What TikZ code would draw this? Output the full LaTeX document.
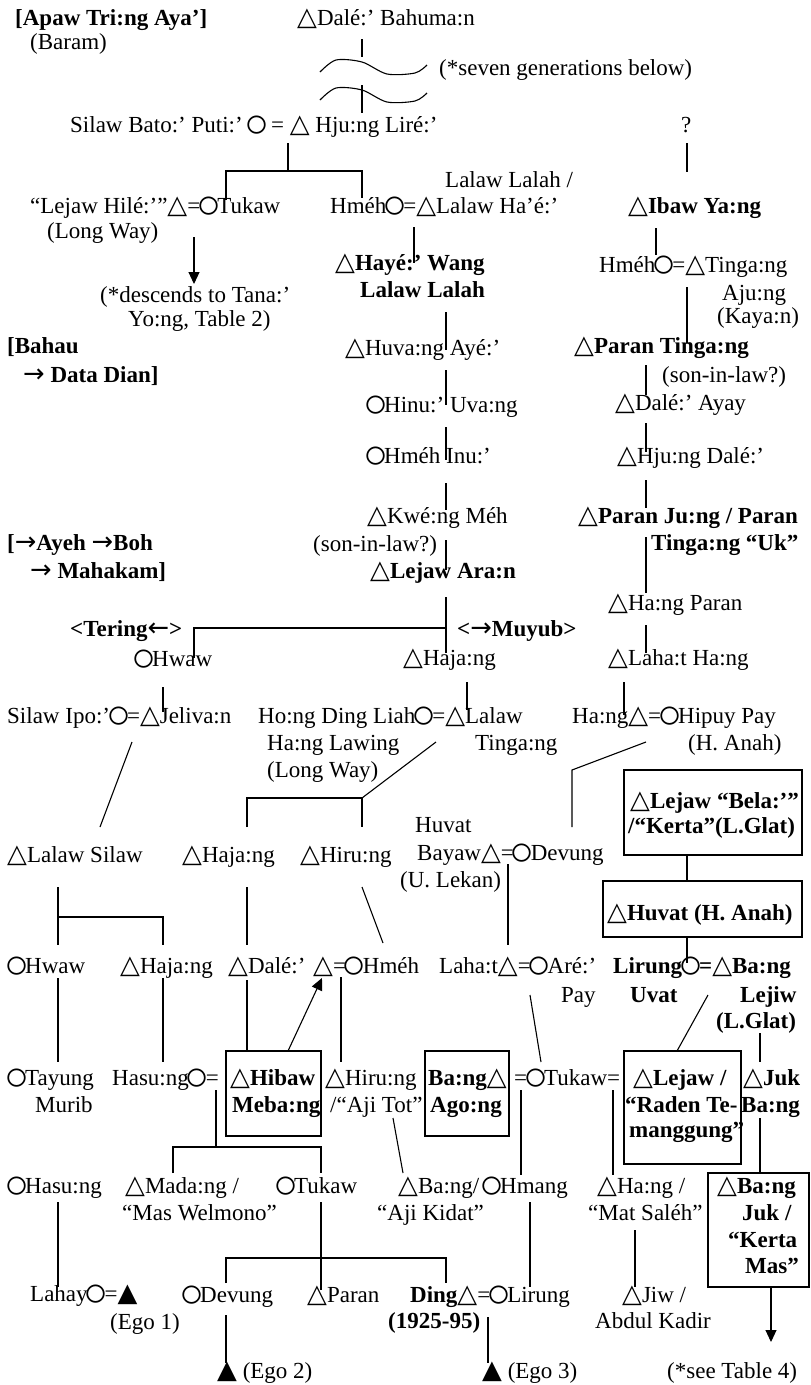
\documentclass[tikz,border=0pt]{standalone}
\usepackage{fontspec}
\setmainfont{Liberation Serif}
\newfontfamily\symf[Scale=1.12]{DejaVu Sans}
\newcommand\tri{{\symf △}}
\newcommand\cir{\makebox[17pt]{\raisebox{-5.8pt}[12pt][0pt]{\scalebox{1.8}{○}}}}
\newcommand\btri{{\symf ▲}}
\newcommand\rarr{{\mdseries\symf →}}
\newcommand\larr{{\mdseries\symf ←}}
\usetikzlibrary{arrows.meta}
\begin{document}
\begin{tikzpicture}[x=1pt,y=-1pt,
 tn/.style={anchor=base west,inner sep=0pt,font=\fontsize{23}{27}\selectfont\frenchspacing},
 tb/.style={tn,font=\fontsize{23}{27}\selectfont\frenchspacing\bfseries},
 ln/.style={line width=1.1pt},
 bx/.style={line width=1.3pt},
 arr/.style={ln,-{Triangle[length=12pt,width=11pt]}}]
\fill[white] (0,0) rectangle (811,1385);
\path[use as bounding box] (0,0) rectangle (811,1385);

\node[tb] (apaw) at (15,25) {[Apaw Tri:ng Aya’]};
\node[tn] (baram) at (30,49) {(Baram)};
\node[tn] (dale0) at (297,25) {\tri Dalé:’ Bahuma:n};
\node[tn] (seven) at (439,75) {(*seven generations below)};
\node[tn] (silaw) at (70,132) {Silaw Bato:’ Puti:’ \cir{} = \tri{} Hju:ng Liré:’};
\node[tn] (q) at (681,132) {?};
\node[tn] (lejawh) at (30,213) {“Lejaw Hilé:’”\tri=\cir Tukaw};
\node[tn] (lw1) at (47,238) {(Long Way)};
\node[tn] (lalah) at (445,187) {Lalaw Lalah /};
\node[tn] (hmeh1) at (330,213) {Hméh\cir=\tri Lalaw Ha’é:’};
\node[tb] (ibaw) at (628,213) {\tri Ibaw Ya:ng};
\node[tn] (desc1) at (100,302) {(*descends to Tana:’};
\node[tn] (desc2) at (128,326) {Yo:ng, Table 2)};
\node[tb] (haye1) at (335,270) {\tri Hayé:’ Wang};
\node[tb] (haye2) at (360,297) {Lalaw Lalah};
\node[tn] (hmeh2) at (599,272) {Hméh\cir=\tri Tinga:ng};
\node[tn] (aju) at (722,300) {Aju:ng};
\node[tn] (kayan) at (717,323) {(Kaya:n)};
\node[tb] (bahau1) at (7,353) {[Bahau};
\node[tb] (bahau2) at (23,382) {\rarr{} Data Dian]};
\node[tn] (huva) at (345,355) {\tri Huva:ng Ayé:’};
\node[tb] (paran1) at (574,353) {\tri Paran Tinga:ng};
\node[tn] (sil1) at (662,382) {(son-in-law?)};
\node[tn] (hinu) at (367,412) {\cir Hinu:’ Uva:ng};
\node[tn] (daleA) at (615,410) {\tri Dalé:’ Ayay};
\node[tn] (hmehI) at (367,463) {\cir Hméh Inu:’};
\node[tn] (hjuD) at (617,463) {\tri Hju:ng Dalé:’};
\node[tn] (kweng) at (367,523) {\tri Kwé:ng Méh};
\node[tn] (sil2) at (313,551) {(son-in-law?)};
\node[tb] (lejawA) at (370,578) {\tri Lejaw Ara:n};
\node[tb] (ayeh1) at (7,550) {[\rarr Ayeh \rarr Boh};
\node[tb] (ayeh2) at (30,578) {\rarr{} Mahakam]};
\node[tb] (paranJ1) at (578,523) {\tri Paran Ju:ng / Paran};
\node[tb] (paranJ2) at (651,550) {Tinga:ng “Uk”};
\node[tn] (hangP) at (608,610) {\tri Ha:ng Paran};
\node[tb] (tering) at (70,636) {<Tering\larr>};
\node[tb] (muyub) at (457,636) {<\rarr Muyub>};
\node[tn] (hwaw1) at (135,666) {\cir Hwaw};
\node[tn] (hajang1) at (403,665) {\tri Haja:ng};
\node[tn] (lahatH) at (608,665) {\tri Laha:t Ha:ng};
\node[tn] (silawI) at (7,723) {Silaw Ipo:’\cir=\tri Jeliva:n};
\node[tn] (hong1) at (258,723) {Ho:ng Ding Liah\cir=\tri Lalaw};
\node[tn] (hong2) at (267,750) {Ha:ng Lawing};
\node[tn] (hong3) at (267,777) {(Long Way)};
\node[tn] (tinga2) at (475,750) {Tinga:ng};
\node[tn] (hang2) at (572,723) {Ha:ng\tri=\cir Hipuy Pay};
\node[tn] (hanah) at (688,750) {(H. Anah)};
\draw[bx] (624,770) rectangle (802,855);
\node[tb] (bela1) at (630,808) {\tri Lejaw “Bela:’”};
\node[tb] (bela2) at (628,833) {/“Kerta”(L.Glat)};
\node[tn] (huvat1) at (415,832) {Huvat};
\node[tn] (huvat2) at (417,860) {Bayaw\tri=\cir Devung};
\node[tn] (huvat3) at (400,887) {(U. Lekan)};
\node[tn] (lalawS) at (7,862) {\tri Lalaw Silaw};
\node[tn] (hajang2) at (182,862) {\tri Haja:ng};
\node[tn] (hirung1) at (300,862) {\tri Hiru:ng};
\draw[bx] (603,881) rectangle (802,937);
\node[tb] (huvatH) at (607,920) {\tri Huvat (H. Anah)};
\node[tn] (hwaw2) at (8,973) {\cir Hwaw};
\node[tn] (hajang3) at (120,973) {\tri Haja:ng};
\node[tn] (daleS) at (228,973) {\tri Dalé:’};
\node[tn] (hmeh3) at (313,973) {\tri=\cir Hméh};
\node[tn] (lahat2) at (439,973) {Laha:t\tri=\cir Aré:’};
\node[tn] (pay) at (561,1002) {Pay};
\node[tb] (lirung1) at (613,973) {Lirung\cir=\tri Ba:ng};
\node[tb] (uvat) at (630,1002) {Uvat};
\node[tb] (lejiw) at (740,1002) {Lejiw};
\node[tb] (lglat) at (716,1028) {(L.Glat)};
\node[tn] (tayung) at (8,1085) {\cir Tayung};
\node[tn] (murib) at (35,1112) {Murib};
\node[tn] (hasung1) at (112,1085) {Hasu:ng\cir=};
\draw[bx] (226,1051) rectangle (321,1136);
\node[tb] (hibaw1) at (230,1085) {\tri Hibaw};
\node[tb] (hibaw2) at (232,1112) {Meba:ng};
\node[tn] (hirung2) at (325,1085) {\tri Hiru:ng};
\node[tn] (ajitot) at (330,1112) {/“Aji Tot”};
\draw[bx] (425,1051) rectangle (509,1136);
\node[tb] (bang1) at (428,1085) {Ba:ng\tri};
\node[tb] (agong) at (430,1112) {Ago:ng};
\node[tn] (tukaw2) at (514,1085) {=\cir Tukaw=};
\draw[bx] (624,1051) rectangle (741,1164);
\node[tb] (raden1) at (633,1085) {\tri Lejaw /};
\node[tb] (raden2) at (625,1112) {“Raden Te-};
\node[tb] (raden3) at (629,1137) {manggung”};
\node[tb] (juk1) at (743,1085) {\tri Juk};
\node[tb] (juk2) at (741,1112) {Ba:ng};
\node[tn] (hasung2) at (8,1193) {\cir Hasu:ng};
\node[tn] (madang1) at (125,1193) {\tri Mada:ng /};
\node[tn] (madang2) at (122,1220) {“Mas Welmono”};
\node[tn] (tukaw3) at (277,1193) {\cir Tukaw};
\node[tn] (kidat1) at (398,1193) {\tri Ba:ng/};
\node[tn] (kidat2) at (377,1220) {“Aji Kidat”};
\node[tn] (hmang) at (483,1193) {\cir Hmang};
\node[tn] (saleh1) at (597,1193) {\tri Ha:ng /};
\node[tn] (saleh2) at (588,1220) {“Mat Saléh”};
\draw[bx] (708,1173) rectangle (809,1287);
\node[tb] (kerta1) at (717,1193) {\tri Ba:ng};
\node[tb] (kerta2) at (742,1220) {Juk /};
\node[tb] (kerta3) at (728,1247) {“Kerta};
\node[tb] (kerta4) at (745,1273) {Mas”};
\node[tn] (lahay) at (30,1301) {Lahay\cir=\btri};
\node[tn] (ego1) at (110,1329) {(Ego 1)};
\node[tn] (devung2) at (183,1302) {\cir Devung};
\node[tn] (paran2) at (307,1302) {\tri Paran};
\node[tn] (ding) at (410,1302) {{\bfseries Ding\tri}=\cir Lirung};
\node[tb] (years) at (388,1328) {(1925-95)};
\node[tn] (jiw1) at (622,1302) {\tri Jiw /};
\node[tn] (jiw2) at (595,1328) {Abdul Kadir};
\node[tn] (ego2) at (217,1378) {\btri{} (Ego 2)};
\node[tn] (ego3) at (482,1378) {\btri{} (Ego 3)};
\node[tn] (see4) at (667,1378) {(*see Table 4)};

% connectors
\draw[ln] (362,39) -- (362,57);
\draw[ln] plot[smooth] coordinates {(320,72) (336,60) (362,62) (387,74) (415,73) (427,65)};
\draw[ln] plot[smooth] coordinates {(320,100) (336,88) (362,90) (387,102) (415,101) (427,93)};
\draw[ln] (362,85) -- (362,113);
\draw[ln] (288,143) -- (288,171);
\draw[ln] (226,200) -- (226,171) -- (362,171) -- (362,198);
\draw[arr] (194,237) -- (194,284);
\draw[ln] (414,227) -- (414,263);
\draw[ln] (687,143) -- (687,172);
\draw[ln] (656,228) -- (656,255);
\draw[ln] (446,312) -- (446,350);
\draw[ln] (446,370) -- (446,405);
\draw[ln] (446,427) -- (446,460);
\draw[ln] (446,483) -- (446,510);
\draw[ln] (446,540) -- (446,570);
\draw[ln] (446,597) -- (446,653);
\draw[ln] (194,658) -- (194,628) -- (446,628);
\draw[ln] (687,287) -- (687,343);
\draw[ln] (646,365) -- (646,395);
\draw[ln] (646,423) -- (646,452);
\draw[ln] (646,480) -- (646,508);
\draw[ln] (646,537) -- (646,593);
\draw[ln] (646,625) -- (646,653);
\draw[ln] (163,687) -- (163,712);
\draw[ln] (467,682) -- (467,710);
\draw[ln] (624,682) -- (624,715);
\draw[ln] (132,742) -- (100,827);
\draw[ln] (436,742) -- (362,798);
\draw[ln] (247,827) -- (247,798) -- (362,798) -- (362,827);
\draw[ln] (646,742) -- (572,770) -- (572,827);
\draw[ln] (687,855) -- (687,881);
\draw[ln] (508,864) -- (508,945);
\draw[ln] (58,887) -- (58,945);
\draw[ln] (58,917) -- (163,917) -- (163,945);
\draw[ln] (247,887) -- (247,945);
\draw[ln] (362,887) -- (383,943);
\draw[ln] (687,937) -- (687,963);
\draw[ln] (58,978) -- (58,1062);
\draw[ln] (163,978) -- (163,1062);
\draw[ln] (247,980) -- (247,1051);
\draw[arr] (288,1051) -- (322,978);
\draw[ln] (341,977) -- (341,1062);
\draw[ln] (530,995) -- (541,1062);
\draw[ln] (708,995) -- (677,1051);
\draw[ln] (760,1033) -- (760,1062);
\draw[ln] (216,1090) -- (216,1147);
\draw[ln] (173,1173) -- (173,1147) -- (321,1147) -- (321,1173);
\draw[ln] (393,1118) -- (403,1173);
\draw[ln] (521,1090) -- (521,1175);
\draw[ln] (613,1090) -- (613,1175);
\draw[ln] (760,1118) -- (760,1173);
\draw[ln] (58,1202) -- (58,1287);
\draw[ln] (321,1202) -- (321,1290);
\draw[ln] (226,1283) -- (226,1258) -- (446,1258) -- (446,1283);
\draw[ln] (530,1202) -- (530,1287);
\draw[ln] (635,1230) -- (635,1287);
\draw[ln] (226,1315) -- (226,1363);
\draw[ln] (488,1317) -- (488,1363);
\draw[arr] (771,1287) -- (771,1342);
\end{tikzpicture}
\end{document}
